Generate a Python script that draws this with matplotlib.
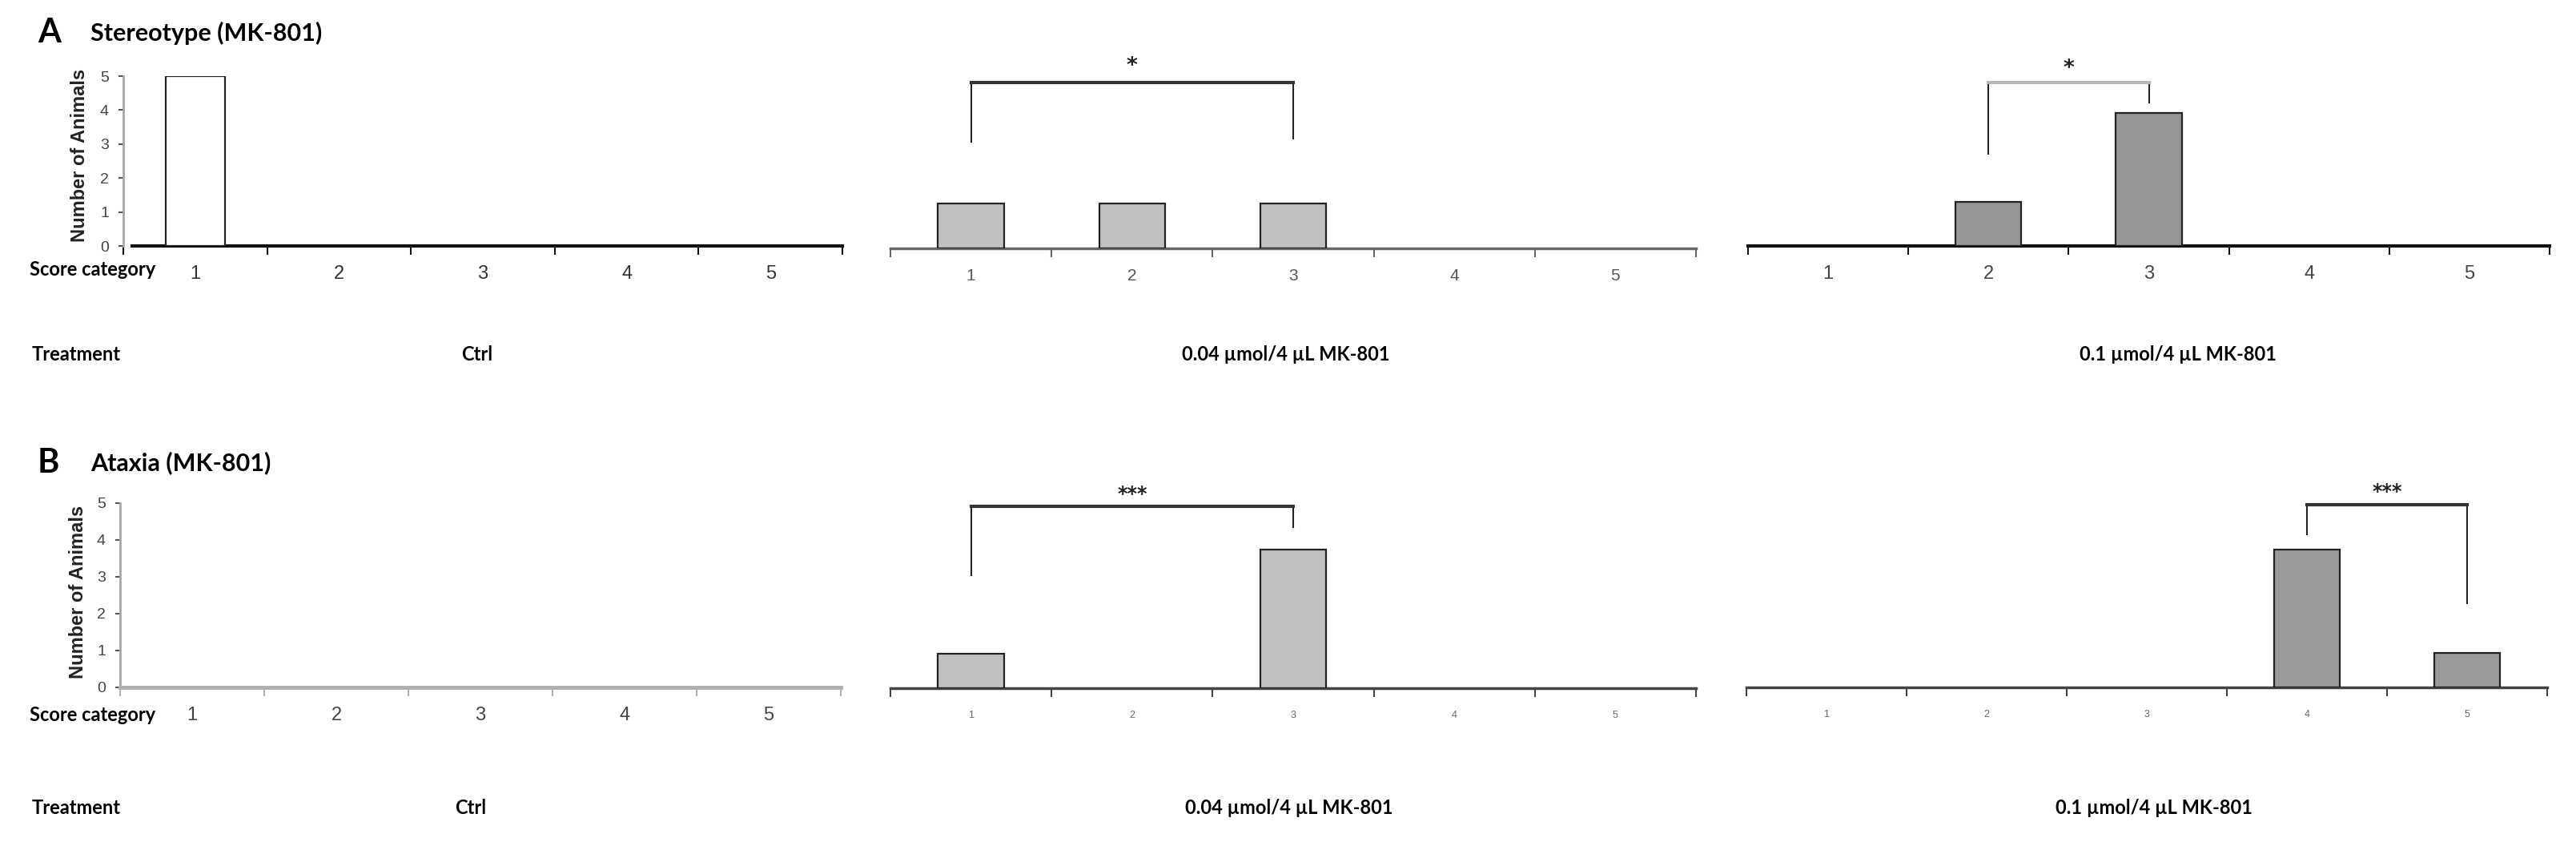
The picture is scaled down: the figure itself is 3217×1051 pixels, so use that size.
import matplotlib
matplotlib.use("Agg")
import matplotlib.pyplot as plt
from matplotlib.ticker import FixedLocator

W, H = 3217, 1051

categories = [1, 2, 3, 4, 5]
treatments = ["Ctrl", "0.04 \u00b5mol/4 \u00b5L MK-801", "0.1 \u00b5mol/4 \u00b5L MK-801"]

# number of animals per score category
stereo_ctrl = [5, 0, 0, 0, 0]
stereo_low = [1, 1, 1, 0, 0]
stereo_high = [0, 1, 3, 0, 0]

ataxia_ctrl = [0, 0, 0, 0, 0]
ataxia_low = [1, 0, 4, 0, 0]
ataxia_high = [0, 0, 0, 4, 1]

# significance brackets: (category from, category to, label)
stereo_low_sig = (1, 3, "*")
stereo_high_sig = (2, 3, "*")
ataxia_low_sig = (1, 3, "***")
ataxia_high_sig = (4, 5, "***")

NARROW = ["Liberation Sans Narrow", "Liberation Sans", "DejaVu Sans"]
CAL = ["Lato", "DejaVu Sans"]

fig = plt.figure(figsize=(W / 100, H / 100), dpi=100)


def px_axes(x0, y0, x1, y1):
    return fig.add_axes([x0 / W, 1 - y1 / H, (x1 - x0) / W, (y1 - y0) / H])


def setup(ax, ymax, show_y, xcol, xlw, ticksize, tickcol, tickpad):
    ax.set_xlim(0.5, 5.5)
    ax.set_ylim(0, ymax)
    for s in ["top", "right"]:
        ax.spines[s].set_visible(False)
    ax.spines["bottom"].set_color(xcol)
    ax.spines["bottom"].set_linewidth(xlw)
    ax.xaxis.set_major_locator(FixedLocator(categories))
    ax.xaxis.set_minor_locator(FixedLocator([0.5, 1.5, 2.5, 3.5, 4.5, 5.5]))
    ax.tick_params(axis="x", which="major", length=0, pad=tickpad,
                   labelsize=ticksize, labelcolor=tickcol)
    ax.tick_params(axis="x", which="minor", length=8, width=1.5, color=xcol,
                   direction="out")
    ax.set_xticklabels([str(c) for c in categories], family=NARROW)
    if show_y:
        ax.spines["left"].set_color("#a8a8a8")
        ax.spines["left"].set_linewidth(2)
        ax.set_yticks(range(0, 6))
        ax.set_yticklabels([str(v) for v in range(0, 6)], family=NARROW)
        ax.tick_params(axis="y", length=4, width=1.5, color="#555555",
                       labelsize=14, labelcolor="#444444", pad=9)
    else:
        ax.spines["left"].set_visible(False)
        ax.set_yticks([])
    ax.patch.set_alpha(0)


def bars(ax, values, color):
    # empty categories show no bar at all
    xs = [c for c, v in zip(categories, values) if v > 0]
    vs = [v for v in values if v > 0]
    if xs:
        ax.bar(xs, vs, width=0.41, color=color, edgecolor="#222222",
               linewidth=1.6, zorder=3)


def bracket(ax, sig, ytop, yl, yr, ystar, hcol="#333333", size=19):
    x1, x2, label = sig
    ax.plot([x1, x1], [yl, ytop], color="#222222", lw=1.5, clip_on=False)
    ax.plot([x2, x2], [yr, ytop], color="#222222", lw=1.5, clip_on=False)
    ax.plot([x1, x2], [ytop, ytop], color=hcol, lw=3, clip_on=False)
    ax.text((x1 + x2) / 2, ystar, label, ha="center", va="center",
            fontsize=size, fontweight="bold", clip_on=False, color="#222222")


# ---- row A: stereotype
a1 = px_axes(154, 95, 1052, 307)
setup(a1, 5, True, "#111111", 3, 17, "#333333", 17)
a1.spines["bottom"].set_bounds(0.56, 5.5)
bars(a1, stereo_ctrl, "white")

a2 = px_axes(1112, 97, 2118, 310)
setup(a2, 3.8, False, "#666666", 2.5, 15, "#555555", 18)
bars(a2, stereo_low, "#c0c0c0")
bracket(a2, stereo_low_sig, 3.7, 2.38, 2.45, 4.05)

a3 = px_axes(2183, 94, 3184, 307)
setup(a3, 3.85, False, "#111111", 3, 17, "#444444", 17)
bars(a3, stereo_high, "#969696")
bracket(a3, stereo_high_sig, 3.69, 2.08, 3.24, 4.0, hcol="#b5b5b5")

# ---- row B: ataxia
b1 = px_axes(150, 628, 1050, 858)
setup(b1, 5, True, "#b0b0b0", 3.5, 17, "#444444", 17)
bars(b1, ataxia_ctrl, "white")

b2 = px_axes(1112, 628, 2118, 859)
setup(b2, 5.35, False, "#444444", 2.5, 9, "#666666", 20)
bars(b2, ataxia_low, "#c0c0c0")
bracket(b2, ataxia_low_sig, 5.25, 3.26, 4.65, 5.6, size=17)

b3 = px_axes(2181, 628, 3181, 858)
setup(b3, 5.35, False, "#444444", 2.5, 9, "#666666", 20)
bars(b3, ataxia_high, "#999999")
bracket(b3, ataxia_high_sig, 5.3, 4.44, 2.45, 5.68, size=17)


def ftext(x, y, s, **kw):
    fig.text(x / W, 1 - y / H, s, **kw)


# panel letters and titles
ftext(47, 41, "A", fontsize=30, fontweight="bold", family=CAL, va="center")
ftext(113, 41, "Stereotype (MK-801)", fontsize=22, fontweight="bold",
      family=CAL, va="center")
ftext(47, 578, "B", fontsize=30, fontweight="bold", family=CAL, va="center")
ftext(113, 578, "Ataxia (MK-801)", fontsize=22, fontweight="bold",
      family=CAL, va="center")

for yc, ymid in [(100, 194), (97, 739)]:
    ftext(yc, ymid, "Number of Animals", rotation=90, fontsize=17,
          fontweight="bold", family=["Liberation Sans", "DejaVu Sans"],
          ha="center", va="center", color="#222222")

for y in [337, 892]:
    ftext(37, y, "Score category", fontsize=17, fontweight="bold",
          family=CAL, va="center")

treat_x = [[596, 1606, 2720], [588, 1610, 2690]]
for y, xs in zip([442, 1009], treat_x):
    ftext(40, y, "Treatment", fontsize=17, fontweight="bold", family=CAL,
          va="center")
    for x, t in zip(xs, treatments):
        ftext(x, y, t, fontsize=17, fontweight="bold", family=CAL,
              ha="center", va="center")

fig.savefig("out.png", dpi=100, facecolor="white")
